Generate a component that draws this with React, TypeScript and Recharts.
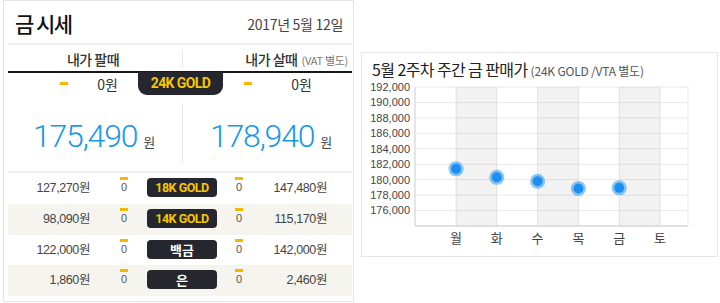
import React from "react";
import {
  LineChart,
  Line,
  XAxis,
  YAxis,
  CartesianGrid,
  ReferenceArea,
} from "recharts";

// ---- data ----
const reportDate = "2017년 5월 12일";
const spotGrade = "24K GOLD";
const spotSell = 175490;
const spotBuy = 178940;
const spotSellChange = 0;
const spotBuyChange = 0;

const grades = ["18K GOLD", "14K GOLD", "백금", "은"];
const sellPrices = [127270, 98090, 122000, 1860];
const buyPrices = [147480, 115170, 142000, 2460];
const sellChanges = [0, 0, 0, 0];
const buyChanges = [0, 0, 0, 0];

const days = ["월", "화", "수", "목", "금", "토"];
const weekPrices = [181400, 180300, 179800, 178850, 178940, null];
const yTicks = [176000, 178000, 180000, 182000, 184000, 186000, 188000, 190000, 192000];
const yDomain = [174000, 192000];

const KR = '"Noto Sans CJK KR", "Noto Sans", sans-serif';
const SANS = '"Liberation Sans", Arial, "Noto Sans CJK KR", sans-serif';
const GOLD = "#f7c600";
const DASH = "#f5b700";
const PILL = "#25262e";

const won = (v: number) => v.toLocaleString("en-US") + "원";

function box(left: number, top: number, width: number, height: number, extra: React.CSSProperties = {}): React.CSSProperties {
  return { position: "absolute", left, top, width, height, ...extra };
}

function renderDot(props: any) {
  const { cx, cy, index } = props;
  if (cx == null || cy == null) return <g key={`dot-${index}`} />;
  return (
    <g key={`dot-${index}`}>
      <circle cx={cx} cy={cy} r={7.5} fill="#48a8f5" fillOpacity={0.65} />
      <circle cx={cx} cy={cy} r={5} fill="#1c8ff0" />
    </g>
  );
}

function PriceRow({ i }: { i: number }) {
  const top = Math.round(173 + i * 30.75);
  const next = Math.round(173 + (i + 1) * 30.75);
  const h = next - top;
  const isGold = grades[i].includes("GOLD");
  return (
    <div style={box(8, top, 344, h, { background: i % 2 === 1 ? "#f6f4ee" : "transparent" })}>
      <div style={box(0, 0, 82, h, { lineHeight: `${h}px`, textAlign: "right", fontSize: 12.5, color: "#444", letterSpacing: -0.4, fontFamily: SANS })}>
        {won(sellPrices[i])}
      </div>
      <div style={box(112, 4, 8, 3, { background: DASH })} />
      <div style={box(110, 6, 12, 16, { lineHeight: "16px", textAlign: "center", fontSize: 11, color: "#555", fontFamily: SANS })}>
        {sellChanges[i]}
      </div>
      <div
        style={box(139, 5, 70, 19, {
          background: PILL,
          borderRadius: 4,
          lineHeight: "19px",
          textAlign: "center",
          color: isGold ? GOLD : "#fff",
          fontWeight: 700,
          fontSize: isGold ? 12.5 : 13,
          letterSpacing: isGold ? -0.5 : 0,
          fontFamily: isGold ? "Roboto, " + SANS : KR,
        })}
      >
        {grades[i]}
      </div>
      <div style={box(227, 4, 8, 3, { background: DASH })} />
      <div style={box(225, 6, 12, 16, { lineHeight: "16px", textAlign: "center", fontSize: 11, color: "#555", fontFamily: SANS })}>
        {buyChanges[i]}
      </div>
      <div style={box(200, 0, 119, h, { lineHeight: `${h}px`, textAlign: "right", fontSize: 12.5, color: "#444", letterSpacing: -0.4, fontFamily: SANS })}>
        {won(buyPrices[i])}
      </div>
    </div>
  );
}

function BigPrice({ left, value }: { left: number; value: number }) {
  return (
    <div
      style={{
        position: "absolute",
        left,
        top: 120,
        whiteSpace: "nowrap",
        fontFamily: "Roboto, " + SANS,
        fontSize: 32,
        lineHeight: "32px",
      }}
    >
      <span style={{ fontWeight: 300, color: "#1b97e8", letterSpacing: -1.2 }}>{value.toLocaleString("en-US")}</span>
      <span style={{ fontFamily: KR, fontSize: 13, color: "#444", marginLeft: 6 }}>원</span>
    </div>
  );
}

export default function App() {
  const chartData = days.map((day, i) => ({ day, price: weekPrices[i] }));
  const bands = days.filter((_, i) => i % 2 === 0 && i + 1 < days.length).map((d) => [d, days[days.indexOf(d) + 1]]);

  return (
    <div style={{ position: "absolute", left: 0, top: 0, width: 720, height: 303, background: "#fff", overflow: "hidden", fontFamily: KR }}>
      {/* left panel: today's price table */}
      <div style={box(3, 0, 351, 302, { border: "1px solid #e4e4e4", boxSizing: "border-box" })} />
      <div style={box(15, 9, 120, 28, { lineHeight: "28px", fontSize: 21, fontWeight: 500, color: "#111", letterSpacing: -1.5 })}>금 시세</div>
      <div style={box(180, 10, 163, 28, { lineHeight: "28px", fontSize: 14, color: "#444", letterSpacing: -0.3, textAlign: "right" })}>
        {reportDate}
      </div>
      <div style={box(8, 43, 344, 2, { background: "#eeeeee" })} />
      <div style={box(8, 49, 170, 20, { lineHeight: "20px", fontSize: 14, fontWeight: 500, color: "#333", textAlign: "center", letterSpacing: -0.5 })}>
        내가 팔때
      </div>
      <div style={box(190, 49, 158, 20, { lineHeight: "20px", fontSize: 14, fontWeight: 500, color: "#333", textAlign: "right", letterSpacing: -0.5, whiteSpace: "nowrap" })}>
        내가 살때
        <span style={{ fontSize: 11, fontWeight: 400, color: "#777", marginLeft: 4, letterSpacing: -0.3 }}>(VAT 별도)</span>
      </div>
      <div style={box(182, 50, 1, 17, { background: "#e6e6e6" })} />
      <div style={box(8, 71, 344, 2, { background: "#151515" })} />
      <div
        style={box(138, 72, 85, 23, {
          background: PILL,
          borderRadius: "0 0 9px 9px",
          lineHeight: "23px",
          textAlign: "center",
          color: GOLD,
          fontWeight: 700,
          fontSize: 14,
          letterSpacing: -0.6,
          fontFamily: "Roboto, " + SANS,
        })}
      >
        {spotGrade}
      </div>
      <div style={box(60, 82, 8, 3, { background: DASH })} />
      <div style={box(60, 75, 58, 18, { lineHeight: "18px", fontSize: 14, color: "#333", textAlign: "right" })}>{won(spotSellChange)}</div>
      <div style={box(244, 82, 8, 3, { background: DASH })} />
      <div style={box(250, 75, 62, 18, { lineHeight: "18px", fontSize: 14, color: "#333", textAlign: "right" })}>{won(spotBuyChange)}</div>

      <BigPrice left={33} value={spotSell} />
      <BigPrice left={210} value={spotBuy} />
      <div style={box(182, 103, 1, 60, { background: "#e6e6e6" })} />
      <div style={box(8, 171, 344, 2, { background: "#eeeeee" })} />

      {grades.map((_, i) => (
        <PriceRow key={i} i={i} />
      ))}

      {/* right panel: weekly chart */}
      <div style={box(361, 52, 357, 205, { border: "1px solid #e6e6e6", boxSizing: "border-box" })} />
      <div style={box(372, 58, 340, 22, { lineHeight: "22px", whiteSpace: "nowrap", color: "#222" })}>
        <span style={{ fontSize: 16, letterSpacing: -0.6 }}>5월 2주차 주간 금 판매가</span>
        <span style={{ fontSize: 12, color: "#555", marginLeft: 3, letterSpacing: -0.2 }}>(24K GOLD /VTA 별도)</span>
      </div>
      <div style={{ position: "absolute", left: 361, top: 52 }}>
        <LineChart width={357} height={204} data={chartData} margin={{ top: 35, right: 30, bottom: 0, left: 0 }}>
          <CartesianGrid stroke="#e8e8e8" />
          {bands.map(([a, b]) => (
            <ReferenceArea key={a} x1={a} x2={b} fill="#000" fillOpacity={0.05} stroke="none" />
          ))}
          <XAxis
            dataKey="day"
            type="category"
            scale="point"
            padding={{ left: 41, right: 28 }}
            axisLine={{ stroke: "#cfcfcf" }}
            tickLine={false}
            tick={{ fontSize: 13, fill: "#444", fontFamily: KR }}
            height={30}
            interval={0}
          />
          <YAxis
            domain={yDomain}
            ticks={yTicks}
            interval={0}
            width={54}
            axisLine={{ stroke: "#d8d8d8" }}
            tickLine={false}
            tickSize={0}
            tickMargin={5}
            tick={{ fontSize: 11, fill: "#444", fontFamily: SANS }}
            tickFormatter={(v: number) => v.toLocaleString("en-US")}
          />
          <Line
            dataKey="price"
            stroke="none"
            dot={renderDot}
            activeDot={false}
            isAnimationActive={false}
          />
        </LineChart>
      </div>
    </div>
  );
}
